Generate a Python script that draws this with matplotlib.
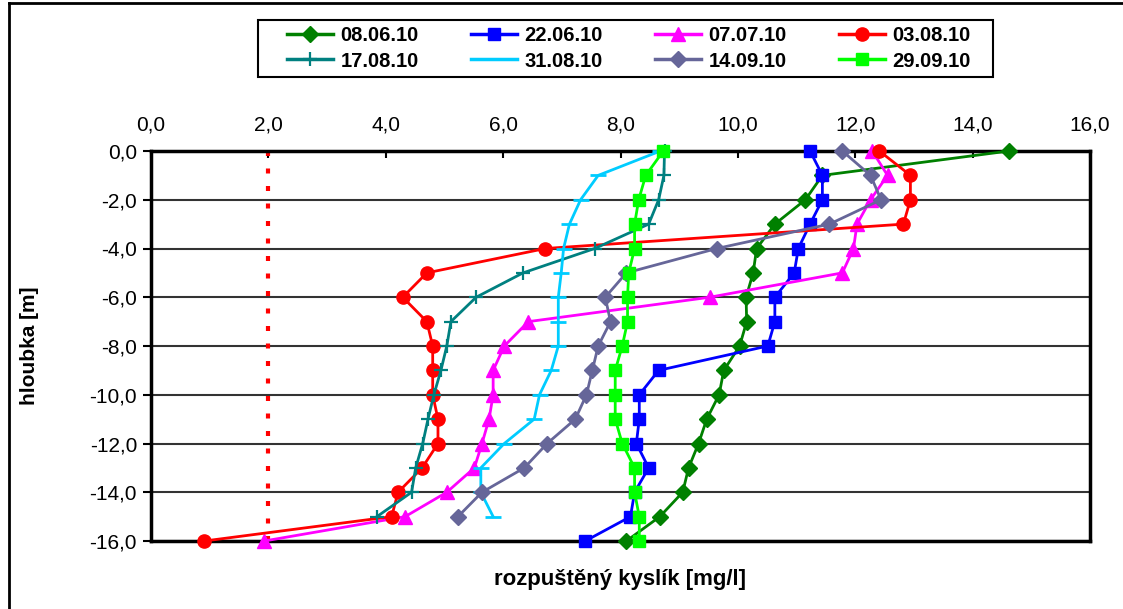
# coding=utf-8
import matplotlib
matplotlib.use('Agg')
import matplotlib.pyplot as plt
from matplotlib.ticker import FuncFormatter, MultipleLocator
from matplotlib.lines import Line2D
from matplotlib.patches import Rectangle

plt.rcParams['font.family'] = ['Liberation Sans', 'DejaVu Sans']

# hloubka [m]
hloubka = [0, -1, -2, -3, -4, -5, -6, -7, -8, -9, -10, -11, -12, -13, -14, -15, -16]

# rozpuštěný kyslík [mg/l] pro jednotlivé termíny
d_080610 = [14.62, 11.44, 11.15, 10.63, 10.32, 10.26, 10.14, 10.15, 10.03, 9.76, 9.68, 9.47, 9.33, 9.16, 9.06, 8.67, 8.10]
d_220610 = [11.23, 11.44, 11.44, 11.23, 11.03, 10.96, 10.63, 10.63, 10.51, 8.65, 8.32, 8.32, 8.27, 8.48, 8.24, 8.17, 7.40]
d_070710 = [12.29, 12.55, 12.26, 12.03, 11.97, 11.78, 9.52, 6.43, 6.02, 5.83, 5.83, 5.76, 5.64, 5.51, 5.04, 4.33, 1.93]
d_030810 = [12.41, 12.94, 12.94, 12.82, 6.72, 4.70, 4.29, 4.70, 4.80, 4.80, 4.80, 4.89, 4.89, 4.62, 4.21, 4.10, 0.91]
d_170810 = [8.75, 8.74, 8.65, 8.48, 7.56, 6.34, 5.54, 5.11, 5.04, 4.94, 4.82, 4.72, 4.63, 4.51, 4.44, 3.85]
d_310810 = [8.68, 7.62, 7.32, 7.13, 7.03, 6.99, 6.94, 6.94, 6.94, 6.82, 6.62, 6.53, 6.02, 5.62, 5.62, 5.83]
d_140910 = [11.78, 12.26, 12.44, 11.56, 9.64, 8.10, 7.74, 7.83, 7.62, 7.52, 7.42, 7.23, 6.75, 6.36, 5.64, 5.23]
d_290910 = [8.73, 8.43, 8.31, 8.24, 8.24, 8.14, 8.12, 8.12, 8.03, 7.91, 7.91, 7.91, 8.03, 8.24, 8.24, 8.32, 8.32]

limit_x = [2.0, 2.0]
limit_y = [0, -16]

fig = plt.figure(figsize=(11.23, 6.09), dpi=100)
ax = fig.add_axes([151 / 1123, 1 - 541 / 609, (1090 - 151) / 1123, (541 - 151) / 609])

# mezní hodnota 2 mg/l
ax.plot(limit_x, limit_y, color='#FF0000', lw=3, linestyle=(0, (1.2, 3.0)),
        dash_capstyle='butt', zorder=2)

serie = [
    (d_080610, '08.06.10', '#008000', 'D', 8, {}),
    (d_220610, '22.06.10', '#0000FF', 's', 9, {}),
    (d_070710, '07.07.10', '#FF00FF', '^', 10, {}),
    (d_030810, '03.08.10', '#FF0000', 'o', 9.5, {}),
    (d_170810, '17.08.10', '#008080', '+', 10, {'mew': 1.6}),
    (d_310810, '31.08.10', '#00CCFF', '_', 12, {'mew': 2}),
    (d_140910, '14.09.10', '#666699', 'D', 8, {}),
    (d_290910, '29.09.10', '#00FF00', 's', 9, {}),
]

handles = []
labels = []
for vals, lab, col, mk, ms, extra in serie:
    ax.plot(vals, hloubka[:len(vals)], color=col, lw=2, marker=mk, ms=ms,
            mfc=col, mec=col, zorder=3, clip_on=False, **extra)
    handles.append(Line2D([], [], color=col, lw=2.5, marker=mk, ms=ms,
                          mfc=col, mec=col, **extra))
    labels.append(lab)

ax.set_xlim(0, 16)
ax.set_ylim(-16, 0)
ax.xaxis.set_major_locator(MultipleLocator(2))
ax.yaxis.set_major_locator(MultipleLocator(2))
fmt = FuncFormatter(lambda v, p: f'{v:.1f}'.replace('.', ','))
ax.xaxis.set_major_formatter(fmt)
ax.yaxis.set_major_formatter(fmt)

ax.xaxis.tick_top()
ax.tick_params(axis='x', direction='in', length=5, width=1.5, labelsize=15, pad=12, colors='black')
ax.tick_params(axis='y', direction='out', length=6, width=1.5, labelsize=15, pad=4)
ax.xaxis.set_label_position('bottom')

ax.grid(axis='y', color='#333333', lw=1.5)
ax.set_axisbelow(True)
for s in ax.spines.values():
    s.set_linewidth(2.5)
    s.set_color('black')

ax.set_xlabel('rozpuštěný kyslík [mg/l]', fontsize=16, fontweight='bold', labelpad=20)
ax.set_ylabel('hloubka [m]', fontsize=15, fontweight='bold', labelpad=36)

# legenda po řádcích (matplotlib plní po sloupcích)
order = [0, 4, 1, 5, 2, 6, 3, 7]
leg = fig.legend([handles[i] for i in order], [labels[i] for i in order], loc='center',
                 bbox_to_anchor=(629 / 1123, 1 - 48.5 / 609), ncol=4, frameon=False,
                 handlelength=2.3, handletextpad=0.35, columnspacing=2.6,
                 borderpad=0.2, labelspacing=0.3,
                 prop={'weight': 'bold', 'size': 14.5})
fig.add_artist(Rectangle((258 / 1123, 1 - 77 / 609), 735 / 1123, 57 / 609,
                         transform=fig.transFigure, fill=False, edgecolor='black', lw=1.5))

# rámeček grafu
fig.add_artist(Line2D([9 / 1123, 9 / 1123], [0, 1 - 3 / 609], color='black', lw=2, transform=fig.transFigure))
fig.add_artist(Line2D([9 / 1123, 1], [1 - 3 / 609, 1 - 3 / 609], color='black', lw=2, transform=fig.transFigure))

fig.savefig('out.png', dpi=100)
